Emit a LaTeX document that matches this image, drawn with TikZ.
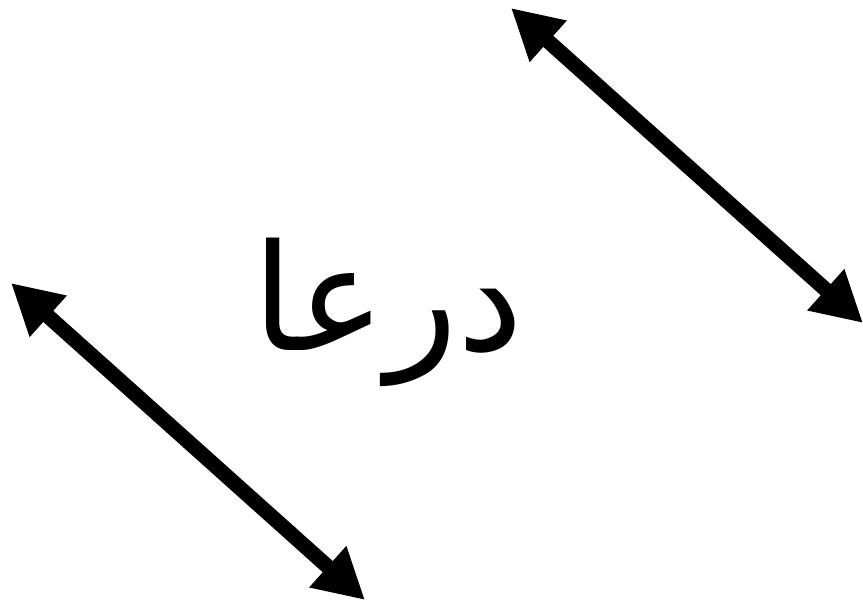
\documentclass[tikz,border=0pt]{standalone}
\usepackage{fontspec}
\newfontfamily\arabicfont[Script=Arabic]{DejaVu Sans}
\TeXXeTstate=1
\usetikzlibrary{arrows.meta}

\begin{document}
\begin{tikzpicture}[x=1pt, y=-1pt,
    twoway/.style={line width=15pt, {Triangle[length=50pt,width=52pt]}-{Triangle[length=50pt,width=52pt]}}]
    \useasboundingbox (0,0) rectangle (863,602);
    % arrow ends
    \coordinate (west top) at (11,283);
    \coordinate (west bottom) at (365,600);
    \coordinate (east top) at (511,8);
    \coordinate (east bottom) at (863,323);
    \draw[twoway] (west top) -- (west bottom);
    \draw[twoway] (east top) -- (east bottom);
    % town name
    \node[anchor=base, inner sep=0pt, font=\arabicfont\fontsize{148}{152}\selectfont] (town) at (388,350) {\beginR درعا\endR};
\end{tikzpicture}
\end{document}
